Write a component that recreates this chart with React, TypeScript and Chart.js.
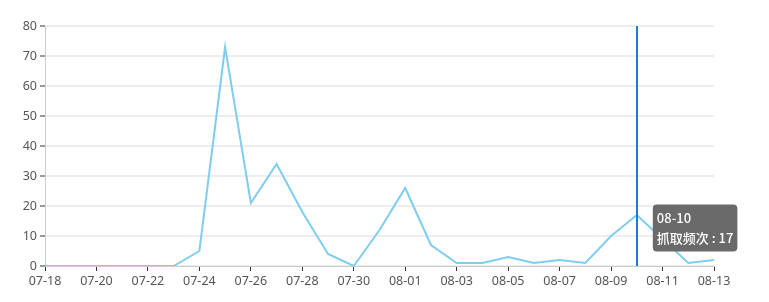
import React, { useEffect, useRef } from "react";
import { Chart, registerables, Tooltip } from "chart.js";

Chart.register(...registerables);

const categories = [
  "07-18", "07-19", "07-20", "07-21", "07-22", "07-23", "07-24", "07-25", "07-26",
  "07-27", "07-28", "07-29", "07-30", "07-31", "08-01", "08-02", "08-03", "08-04",
  "08-05", "08-06", "08-07", "08-08", "08-09", "08-10", "08-11", "08-12", "08-13",
];
const values = [0, 0, 0, 0, 0, 0, 5, 73, 21, 34, 18, 4, 0, 12, 26, 7, 1, 1, 3, 1, 2, 1, 10, 17, 9, 1, 2];
const seriesName = "抓取频次";
const activeIndex = 23;

(Tooltip.positioners as any).sideRight = function (elements: any[]) {
  if (!elements.length) return false;
  const el = elements[0].element;
  return { x: el.x + 16, y: el.y + 13, xAlign: "left", yAlign: "center" };
};

const vlinePlugin = {
  id: "vline",
  afterDatasetsDraw(chart: any) {
    const meta = chart.getDatasetMeta(0);
    const pt = meta.data[activeIndex];
    if (!pt) return;
    const { ctx, chartArea } = chart;
    ctx.save();
    ctx.strokeStyle = "#1a7ddb";
    ctx.lineWidth = 2;
    ctx.beginPath();
    ctx.moveTo(Math.round(pt.x), chartArea.top);
    ctx.lineTo(Math.round(pt.x), chartArea.bottom);
    ctx.stroke();
    ctx.restore();
  },
};

export default function App() {
  const ref = useRef<HTMLCanvasElement>(null);
  useEffect(() => {
    if (!ref.current) return;
    const font = "'Noto Sans', 'Noto Sans CJK SC', sans-serif";
    const chart = new Chart(ref.current, {
      type: "line",
      data: {
        labels: categories,
        datasets: [
          {
            label: seriesName,
            data: values,
            borderColor: "#7fcdef",
            borderWidth: 2,
            pointRadius: 0,
            pointHoverRadius: 0,
            tension: 0,
            fill: false,
          },
        ],
      },
      options: {
        animation: false,
        responsive: true,
        maintainAspectRatio: false,
        events: [],
        layout: { padding: { top: 18, right: 47, left: 0, bottom: 0 } },
        plugins: {
          legend: { display: false },
          tooltip: {
            enabled: true,
            position: "sideRight" as any,
            backgroundColor: "#6a6a6a",
            cornerRadius: 4,
            caretSize: 0,
            caretPadding: 0,
            displayColors: false,
            padding: { x: 4, y: 6 },
            titleColor: "#fff",
            bodyColor: "#fff",
            titleFont: { family: "'Noto Sans CJK SC', sans-serif", size: 13, weight: "500" },
            bodyFont: { family: "'Noto Sans CJK SC', sans-serif", size: 13, weight: "500" },
            titleMarginBottom: 4,
            callbacks: {
              title: (items: any[]) => items[0].label,
              label: (item: any) => seriesName + " : " + item.parsed.y,
            },
          },
        },
        scales: {
          x: {
            offset: false,
            grid: {
              display: true,
              drawOnChartArea: false,
              drawTicks: true,
              tickLength: 5,
              tickWidth: 1,
              tickColor: (ctx: any) => (ctx.index % 2 === 0 ? "#333" : "rgba(0,0,0,0)"),
            },
            border: { display: true, color: "#ccc", width: 1 },
            ticks: {
              autoSkip: false,
              maxRotation: 0,
              color: "#555",
              font: { family: font, size: 12.5 },
              padding: 3,
              callback: (_v: any, i: number) => (i % 2 === 0 ? categories[i] : ""),
            },
            afterFit: (s: any) => {
              s.height = 28;
            },
          },
          y: {
            min: 0,
            max: 80,
            grid: {
              color: "#eeeeee",
              lineWidth: 2,
              tickLength: 5,
              tickWidth: 1,
              tickColor: "#333",
            },
            border: { display: true, color: "#ccc", width: 1 },
            ticks: {
              stepSize: 10,
              color: "#555",
              font: { family: font, size: 12.5 },
              padding: 3,
            },
            afterFit: (s: any) => {
              s.width = 37;
            },
          },
        },
      },
      plugins: [vlinePlugin],
    });
    const pt = chart.getDatasetMeta(0).data[activeIndex] as any;
    chart.tooltip!.setActiveElements([{ datasetIndex: 0, index: activeIndex }], { x: pt.x, y: pt.y });
    chart.update();
    return () => chart.destroy();
  }, []);
  return (
    <div style={{ width: 753, height: 286, position: "relative" }}>
      <canvas ref={ref} style={{ display: "block" }} />
    </div>
  );
}
